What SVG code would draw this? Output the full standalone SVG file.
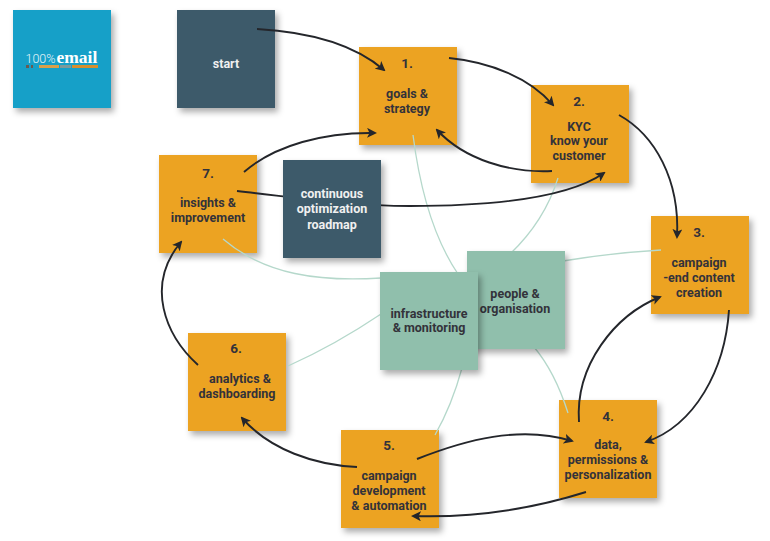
<svg xmlns="http://www.w3.org/2000/svg" width="770" height="541" viewBox="0 0 770 541">
<style>
text{font-family:Roboto,"Liberation Sans",sans-serif;font-weight:700;font-size:12.5px;fill:#33323a;text-anchor:middle}
.o{fill:#eca323;filter:url(#s)}
.d{fill:#3e5a6b;filter:url(#s)}
.g{fill:#90bfac;filter:url(#s)}
.w{fill:#f0f0f0}
.n{font-size:13.5px}
.c{fill:none;stroke:#24262b;stroke-width:1.9;marker-end:url(#a)}
.l{fill:none;stroke:#b5d8cb;stroke-width:1.3}
</style>
<defs>
<filter id="s" x="-15%" y="-15%" width="135%" height="135%"><feDropShadow dx="3" dy="4" stdDeviation="3" flood-color="#000" flood-opacity=".33"/></filter>
<marker id="a" viewBox="0 0 10 10" refX="8" refY="5" markerWidth="10" markerHeight="10" markerUnits="userSpaceOnUse" orient="auto"><path d="M0 0L10 5L0 10L2.5 5Z" fill="#24262b"/></marker>
</defs>
<rect width="770" height="541" fill="#fff"/>
<g id="logo"><rect class="o" x="13" y="10" width="98" height="98" style="fill:#12a0c8"/>
<text x="55.5" y="63" style="font-size:12.5px;font-weight:300;fill:#e8f6fa;text-anchor:end">100%</text>
<text x="56.5" y="63" style="font-family:'Liberation Serif',serif;font-size:17.5px;fill:#fff;text-anchor:start">email</text>
<rect x="26" y="65" width="3" height="3" fill="#6a5a50"/><rect x="31" y="65" width="2" height="3" fill="#6a5a50"/><rect x="39" y="65" width="20" height="3" fill="#d9a04a"/><rect x="60" y="65" width="11" height="3" fill="#7d9a9a"/><rect x="72" y="65" width="26" height="3" fill="#d68f2e"/>
</g>
<g id="start"><rect class="d" x="177" y="10" width="98" height="98"/><text class="w" x="226" y="68">start</text></g>
<g id="node1"><rect class="o" x="359" y="47" width="98" height="98"/><text class="n" x="407" y="68">1.</text><text x="407" y="98">goals &amp;</text><text x="407" y="113">strategy</text></g>
<g id="node2"><rect class="o" x="531" y="85" width="98" height="98"/><text class="n" x="579" y="106">2.</text><text x="579" y="131">KYC</text><text x="579" y="145">know your</text><text x="579" y="160">customer</text></g>
<g id="node3"><rect class="o" x="651" y="216" width="98" height="98"/><text class="n" x="699" y="237">3.</text><text x="699" y="267">campaign</text><text x="699" y="282">-end content</text><text x="699" y="297">creation</text></g>
<g id="node4"><rect class="o" x="559" y="400" width="98" height="98"/><text class="n" x="608" y="421">4.</text><text x="608" y="449">data,</text><text x="608" y="464">permissions &amp;</text><text x="608" y="479">personalization</text></g>
<g id="node5"><rect class="o" x="341" y="430" width="98" height="98"/><text class="n" x="389" y="450">5.</text><text x="389" y="480">campaign</text><text x="389" y="495">development</text><text x="389" y="510">&amp; automation</text></g>
<g id="node6"><rect class="o" x="188" y="333" width="98" height="98"/><text class="n" x="236" y="353">6.</text><text x="240" y="383">analytics &amp;</text><text x="237" y="398">dashboarding</text></g>
<g id="node7"><rect class="o" x="159" y="155" width="98" height="98"/><text class="n" x="208" y="178">7.</text><text x="208" y="207">insights &amp;</text><text x="208" y="222">improvement</text></g>
<g id="connectors-light">
<path class="l" d="M413 135C420 190 435 240 458 274"/>
<path class="l" d="M558 178C548 210 530 235 510 254"/>
<path class="l" d="M661 250Q610 253 563 261"/>
<path class="l" d="M568 413Q555 372 534 347"/>
<path class="l" d="M435 435Q452 405 462 368"/>
<path class="l" d="M288 366Q335 345 381 314"/>
<path class="l" d="M223 239C265 275 320 282 381 278"/>
</g>
<g id="people"><rect class="g" x="467" y="251" width="98" height="98"/><text x="515" y="298">people &amp;</text><text x="515" y="313">organisation</text></g>
<g id="infra"><rect class="g" x="380" y="272" width="98" height="98"/><text x="429" y="318">infrastructure</text><text x="429" y="332">&amp; monitoring</text></g>
<g id="connectors">
<path class="c" d="M257 29C310 32 355 45 384 70"/>
<path class="c" d="M449 58C490 62 530 78 553 105"/>
<path class="c" d="M619 115C655 135 680 180 677 237"/>
<path class="c" d="M729 310C725 370 695 425 646 442"/>
<path class="c" d="M579 422C575 365 615 315 660 297"/>
<path class="c" d="M586 492C535 508 475 518 413 516"/>
<path class="c" d="M417 459C465 440 520 425 572 441"/>
<path class="c" d="M357 467C315 465 270 450 242 418"/>
<path class="c" d="M198 365C165 335 145 285 181 242"/>
<path class="c" d="M244 172C275 145 325 132 375 133"/>
<path class="c" d="M552 171C510 173 465 160 437 130"/>
<path class="c" d="M237 191C300 198 350 206 410 206C480 206 565 200 604 173"/>
</g>
<g id="roadmap"><rect class="d" x="283" y="160" width="98" height="98"/><text class="w" x="332" y="198">continuous</text><text class="w" x="332" y="213">optimization</text><text class="w" x="332" y="229">roadmap</text></g>
</svg>
